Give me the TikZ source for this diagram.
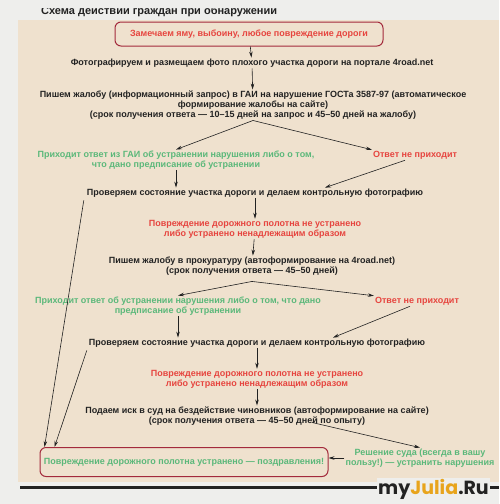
\documentclass[tikz,border=0pt]{standalone}
\usepackage{fontspec}
\setmainfont{Liberation Sans}
\newfontfamily\wmfont{Poppins}
\usetikzlibrary{arrows.meta,calc}
\definecolor{paper}{HTML}{EFE1CE}
\definecolor{margin}{HTML}{EEEEEC}
\definecolor{ink}{HTML}{222222}
\definecolor{redtxt}{HTML}{E6453F}
\definecolor{grntxt}{HTML}{5BB87A}
\definecolor{boxred}{HTML}{A32A3C}
\definecolor{wmorange}{HTML}{E8A41C}
\begin{document}
\begin{tikzpicture}[x=1pt,y=-1pt,
  txt/.style={font=\bfseries\fontsize{9}{10}\selectfont, align=center, inner sep=1pt, text=ink},
  redt/.style={txt, text=redtxt},
  grnt/.style={txt, text=grntxt},
  arr/.style={-{Stealth[length=6pt,width=3.5pt]}, draw=ink, line width=0.6pt},
  framebox/.style={draw=boxred, line width=1pt, rounded corners=6pt}]
\useasboundingbox (0,0) rectangle (499,504);
% background
\fill[margin] (0,0) rectangle (499,504);
\fill[paper] (18,20) rectangle (499,482);
\begin{scope}
\clip (0,8.5) rectangle (499,20);
\node[txt, anchor=base west, font=\bfseries\fontsize{11}{12}\selectfont] (hdr) at (40,14) {Схема действий граждан при обнаружении};
\end{scope}
% nodes
\node[framebox, redt, minimum width=268pt, minimum height=24pt] (top) at (249,34) {Замечаем яму, выбоину, любое повреждение дороги};
\node[txt] (foto) at (252,63) {Фотографируем и размещаем фото плохого участка дороги на портале 4road.net};
\node[txt] (gai) at (253,105) {Пишем жалобу (информационный запрос) в ГАИ на нарушение ГОСТа 3587-97 (автоматическое\\формирование жалобы на сайте)\\(срок получения ответа~--- 10--15 дней на запрос и 45--50 дней на жалобу)};
\node[grnt] (ok1) at (176,160) {Приходит ответ из ГАИ об устранении нарушения либо о том,\\что дано предписание об устранении};
\node[redt] (no1) at (415,155) {Ответ не приходит};
\node[txt] (chk1) at (255,193) {Проверяем состояние участка дороги и делаем контрольную фотографию};
\node[redt] (bad1) at (255,229) {Повреждение дорожного полотна не устранено\\либо устранено ненадлежащим образом};
\node[txt] (prok) at (252,266) {Пишем жалобу в прокуратуру (автоформирование на 4road.net)\\(срок получения ответа~--- 45--50 дней)};
\node[grnt] (ok2) at (178,306) {Приходит ответ об устранении нарушения либо о том, что дано\\предписание об устранении};
\node[redt] (no2) at (417,301) {Ответ не приходит};
\node[txt] (chk2) at (257,343) {Проверяем состояние участка дороги и делаем контрольную фотографию};
\node[redt] (bad2) at (257,379) {Повреждение дорожного полотна не устранено\\либо устранено ненадлежащим образом};
\node[txt] (sud) at (257,416) {Подаем иск в суд на бездействие чиновников (автоформирование на сайте)\\(срок получения ответа~--- 45--50 дней по опыту)};
\node[grnt] (win) at (420,458) {Решение суда (всегда в вашу\\пользу!)~--- устранить нарушения};
\node[framebox, grnt, minimum width=288pt, minimum height=29pt] (final) at (184,462) {Повреждение дорожного полотна устранено~--- поздравления!};
% connectors
\draw[arr] (top) -- (foto);
\draw[arr] (foto) -- (gai);
\draw[arr] (gai.south) -- (ok1.north);
\draw[arr] (gai.south) -- (no1.north west);
\draw[arr] (ok1.south) -- (ok1.south |- chk1.north);
\draw[arr] ($(no1.south)+(-10,0)$) -- ($(chk1.north)+(70,0)$);
\draw[arr] (chk1) -- (bad1);
\draw[arr] (bad1) -- (prok);
\draw[arr] ($(prok.south)+(0,5)$) -- (ok2.north);
\draw[arr] ($(prok.south)+(0,5)$) -- (no2.north west);
\draw[arr] (ok2.south) -- (ok2.south |- chk2.north);
\draw[arr] ($(no2.south)+(-7,0)$) -- ($(chk2.north)+(76,0)$);
\draw[arr] (chk2) -- (bad2);
\draw[arr] (bad2) -- (sud);
\draw[arr] ($(sud.south)+(55,-4)$) -- (win.north);
\draw[arr] (win.west) -- (win.west -| final.east);
\draw[arr] ($(chk1.south west)+(-2,2)$) -- ($(final.north west)+(5,0)$);
\draw[arr] ($(chk2.south west)+(-1,2)$) -- ($(final.north west)+(15,0)$);
% bottom rule and watermark
\draw[ink, line width=3pt] (20,487) -- (499,487);
\node[anchor=base east, inner sep=1pt, fill=margin, font=\wmfont\bfseries\fontsize{19}{19}\selectfont] (wm) at (490,494) {\textcolor{ink}{my}\textcolor{wmorange}{Julia}\textcolor{ink}{.Ru}};
\end{tikzpicture}
\end{document}
